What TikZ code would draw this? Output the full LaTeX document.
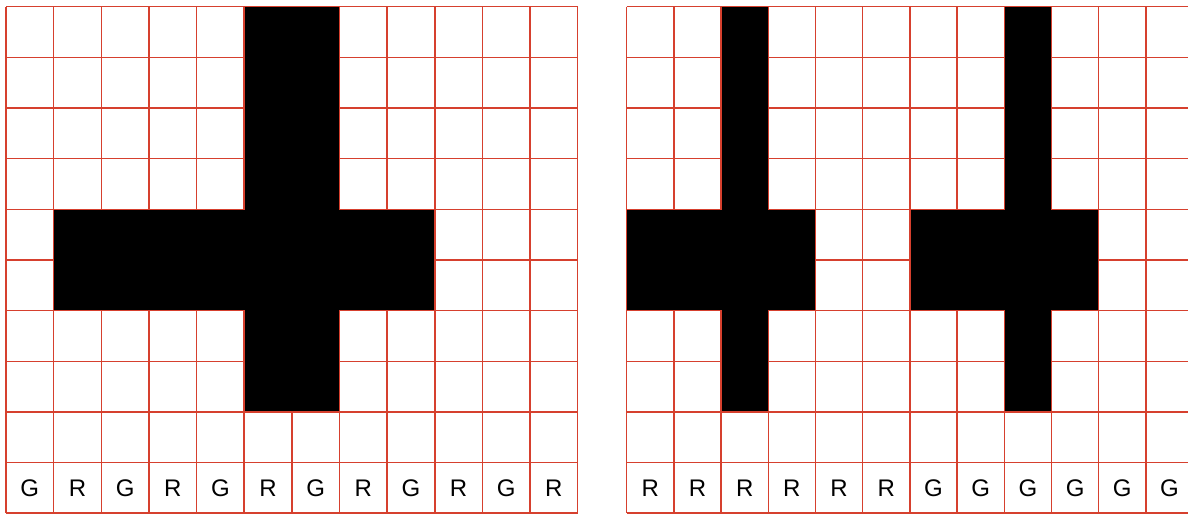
\documentclass[tikz,border=0pt]{standalone}
\usepackage{fontspec}
\setmainfont{Liberation Sans}
\definecolor{gridred}{HTML}{D6402E}

\begin{document}
\begin{tikzpicture}[
  x=1pt, y=-1pt,
  gridline/.style={draw=gridred, line width=1.5pt},
  crossfill/.style={fill=black, draw=gridred, line width=1.5pt},
  celllabel/.style={font=\fontsize{24}{28}\selectfont, inner sep=0pt}
]
\useasboundingbox (0,0) rectangle (1188,514);
\clip (0,0) rectangle (1188,514);

% left grid: one wide cross
\begin{scope}[shift={(6,6.7)}, x=47.64pt, y=-50.65pt]
  \foreach \i in {0,...,12} \draw[gridline] (\i,0) -- (\i,10);
  \foreach \j in {0,...,10} \draw[gridline] (0,\j) -- (12,\j);
  \filldraw[crossfill] (5,0) -- (7,0) -- (7,4) -- (9,4) -- (9,6) -- (7,6) -- (7,8)
    -- (5,8) -- (5,6) -- (1,6) -- (1,4) -- (5,4) -- cycle;
  \foreach \c [count=\i from 0] in {G,R,G,R,G,R,G,R,G,R,G,R}
    \node[celllabel] (lft-\i) at (\i+0.5,9.5) {\c};
\end{scope}

% right grid: two narrow crosses
\begin{scope}[shift={(626.7,6.7)}, x=47.2pt, y=-50.65pt]
  \foreach \i in {0,...,12} \draw[gridline] (\i,0) -- (\i,10);
  \foreach \j in {0,...,10} \draw[gridline] (0,\j) -- (12,\j);
  \foreach \s in {0,6}
    \filldraw[crossfill] (\s+2,0) -- (\s+3,0) -- (\s+3,4) -- (\s+4,4) -- (\s+4,6)
      -- (\s+3,6) -- (\s+3,8) -- (\s+2,8) -- (\s+2,6) -- (\s+0,6) -- (\s+0,4)
      -- (\s+2,4) -- cycle;
  \foreach \c [count=\i from 0] in {R,R,R,R,R,R,G,G,G,G,G,G}
    \node[celllabel] (rgt-\i) at (\i+0.5,9.5) {\c};
\end{scope}
\end{tikzpicture}
\end{document}
